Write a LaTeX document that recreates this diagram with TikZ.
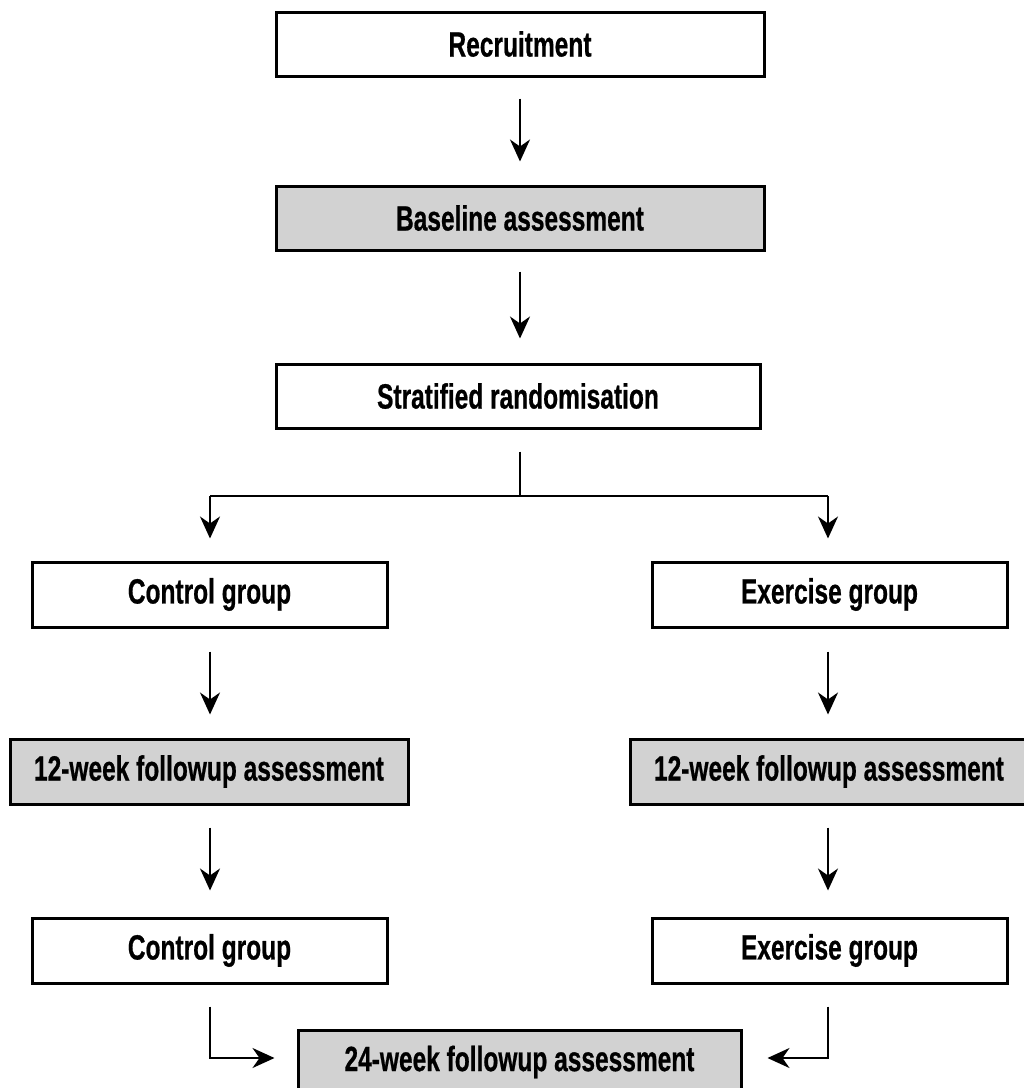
\documentclass[tikz,border=0pt]{standalone}
\usepackage{fontspec}
\setmainfont{Liberation Sans}[BoldFeatures={FakeBold=0.8}]
\usepackage{graphicx}
\usetikzlibrary{arrows.meta}
\newcommand{\sq}[1]{\scalebox{0.70}[1]{#1}}
\begin{document}
\begin{tikzpicture}[x=1pt,y=-1pt,
  box/.style={draw=black,line width=3pt,minimum height=64pt,inner sep=0pt,
    font=\fontsize{35}{40}\selectfont\bfseries},
  gbox/.style={box,fill=gray!35},
  arr/.style={line width=2pt,-{Stealth[length=22pt,width=20pt,inset=7pt]}},
  ln/.style={line width=2pt}]
\useasboundingbox (0,0) rectangle (1024,1088);
\node[box,minimum width=488pt] (rec) at (520,44) {\sq{Recruitment}};
\node[gbox,minimum width=488pt] (base) at (520,218) {\sq{Baseline assessment}};
\node[box,minimum width=484pt] (strat) at (518,396) {\sq{Stratified randomisation}};
\node[box,minimum width=355pt,minimum height=65pt] (ctrl) at (209.5,594.5) {\sq{Control group}};
\node[box,minimum width=355pt,minimum height=65pt] (exer) at (829.5,594.5) {\sq{Exercise group}};
\node[gbox,minimum width=398pt,minimum height=65pt] (fl) at (209,771.5) {\sq{12-week followup assessment}};
\node[gbox,minimum width=398pt,minimum height=65pt] (fr) at (829,771.5) {\sq{12-week followup assessment}};
\node[box,minimum width=355pt,minimum height=65pt] (ctrl2) at (209.5,950.5) {\sq{Control group}};
\node[box,minimum width=355pt,minimum height=65pt] (exer2) at (829.5,950.5) {\sq{Exercise group}};
\node[gbox,minimum width=443pt] (w24) at (519.5,1062) {\sq{24-week followup assessment}};
% vertical arrows
\draw[arr] ([yshift=-21pt]rec.south) -- ([yshift=23pt]base.north);
\draw[arr] ([yshift=-20pt]base.south) -- ([xshift=2pt,yshift=24pt]strat.north);
\coordinate (split) at (520,496);
\draw[ln] ([xshift=2pt,yshift=-22pt]strat.south) -- (split);
\draw[ln] (split) -| ([xshift=0.5pt]ctrl.north |- split);
\draw[arr] ([xshift=0.5pt]split -| ctrl.north) -- ([xshift=0.5pt,yshift=22pt]ctrl.north);
\draw[ln] (split) -| ([xshift=-1.5pt]exer.north |- split);
\draw[arr] ([xshift=-1.5pt]split -| exer.north) -- ([xshift=-1.5pt,yshift=22pt]exer.north);
\draw[arr] ([xshift=0.5pt,yshift=-23pt]ctrl.south) -- ([xshift=0.5pt,yshift=23pt]ctrl.south |- fl.north);
\draw[arr] ([xshift=-1.5pt,yshift=-23pt]exer.south) -- ([xshift=-1.5pt,yshift=23pt]exer.south |- fr.north);
\draw[arr] ([xshift=1pt,yshift=-22pt]fl.south) -- ([xshift=1pt,yshift=26pt]fl.south |- ctrl2.north);
\draw[arr] ([xshift=-1pt,yshift=-22pt]fr.south) -- ([xshift=-1pt,yshift=26pt]fr.south |- exer2.north);
\coordinate (bl) at (210,1058);
\coordinate (br) at (828,1058);
\draw[arr] ([xshift=0.5pt,yshift=-22pt]ctrl2.south) |- ([xshift=-22pt]w24.west |- bl);
\draw[arr] ([xshift=-1.5pt,yshift=-22pt]exer2.south) |- ([xshift=25pt]w24.east |- br);
\end{tikzpicture}
\end{document}
